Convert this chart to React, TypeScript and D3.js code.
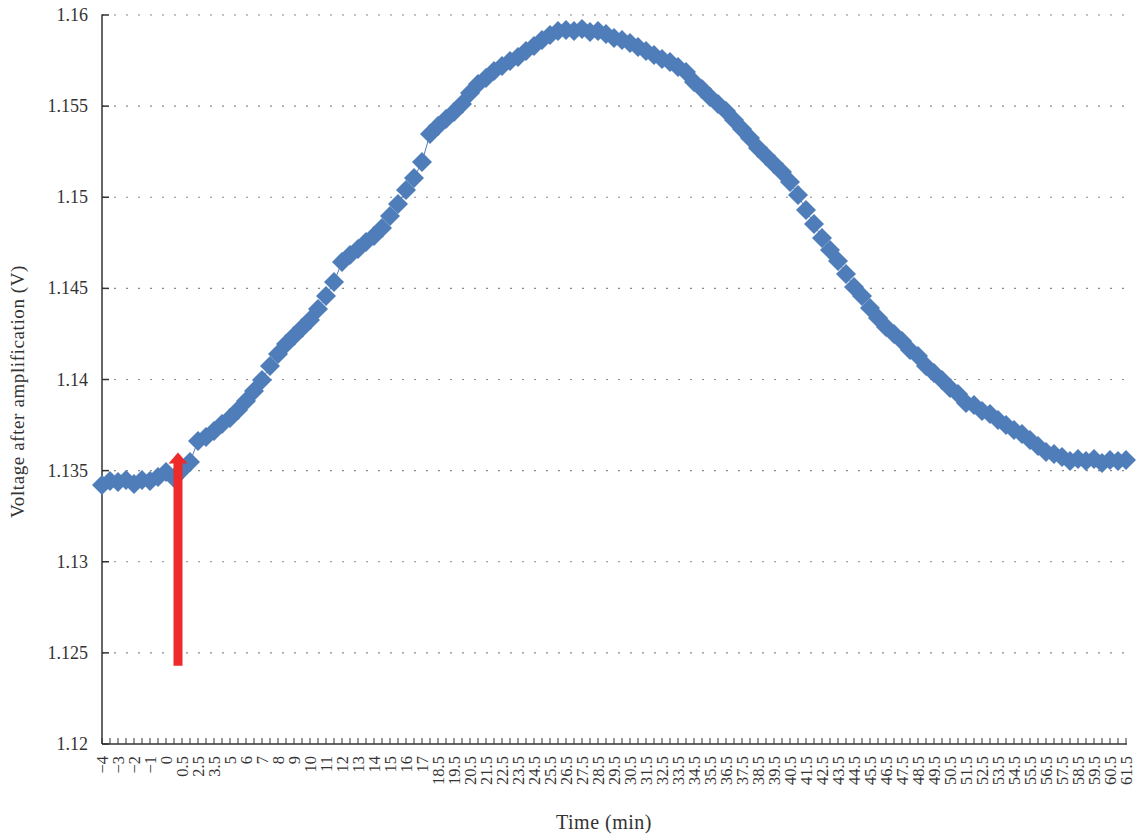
import React from "react";
import * as d3 from "d3";

const xLabels: string[] = [
  "−4", "−3", "−2", "−1", "0", "0.5", "2.5", "3.5",
  "5", "6", "7", "8", "9", "10", "11", "12", "13", "14", "15", "16", "17",
  "18.5", "19.5", "20.5", "21.5", "22.5", "23.5", "24.5", "25.5", "26.5", "27.5",
  "28.5", "29.5", "30.5", "31.5", "32.5", "33.5", "34.5", "35.5", "36.5", "37.5",
  "38.5", "39.5", "40.5", "41.5", "42.5", "43.5", "44.5", "45.5", "46.5", "47.5",
  "48.5", "49.5", "50.5", "51.5", "52.5", "53.5", "54.5", "55.5", "56.5", "57.5",
  "58.5", "59.5", "60.5", "61.5",
];

const voltage: number[] = [
  1.13421, 1.13443, 1.13438, 1.13449, 1.13427, 1.13449, 1.13443, 1.13465, 1.13492, 1.1346,
  1.13503, 1.13547, 1.13663, 1.13685, 1.13717, 1.13756, 1.13789, 1.13833, 1.13882, 1.13937,
  1.13997, 1.14074, 1.1414, 1.14195, 1.14239, 1.14283, 1.14326, 1.14387, 1.14458, 1.14535,
  1.14645, 1.14683, 1.14716, 1.14754, 1.14787, 1.14831, 1.14897, 1.14963, 1.1504, 1.15106,
  1.15193, 1.15347, 1.15391, 1.15429, 1.15468, 1.15512, 1.15572, 1.15621, 1.15654, 1.15693,
  1.1572, 1.15748, 1.1577, 1.15802, 1.1583, 1.15863, 1.1589, 1.15912, 1.15918, 1.15912,
  1.15923, 1.15907, 1.15912, 1.15896, 1.15874, 1.15863, 1.15846, 1.15824, 1.15802, 1.15781,
  1.15759, 1.15742, 1.15715, 1.15687, 1.15632, 1.15594, 1.1555, 1.15512, 1.15473, 1.15424,
  1.15375, 1.15325, 1.1527, 1.15226, 1.15182, 1.15139, 1.15084, 1.15012, 1.1493, 1.14853,
  1.14776, 1.14711, 1.1465, 1.14579, 1.14508, 1.14458, 1.14392, 1.14337, 1.14288, 1.1425,
  1.14211, 1.14162, 1.14129, 1.14074, 1.14036, 1.13997, 1.13953, 1.1392, 1.13871, 1.1386,
  1.13827, 1.13811, 1.13778, 1.1375, 1.13723, 1.13701, 1.13668, 1.13635, 1.13602, 1.13591,
  1.13575, 1.13553, 1.13564, 1.13553, 1.13564, 1.13542, 1.13558, 1.13553, 1.13558,
];

const yTicks: number[] = [1.12, 1.125, 1.13, 1.135, 1.14, 1.145, 1.15, 1.155, 1.16];
const yTickLabels: string[] = ["1.12", "1.125", "1.13", "1.135", "1.14", "1.145", "1.15", "1.155", "1.16"];

// annotation arrow (category position, from value, to value)
const arrowAt: number[] = [9.5];
const arrowFrom: number[] = [1.1243];
const arrowTo: number[] = [1.136];

const W = 1138;
const H = 839;
const left = 102;
const right = 1126;
const top = 15;
const bottom = 744;
const FONT = "'Liberation Serif', 'Times New Roman', serif";
const BLUE = "#4f7db9";

export default function App() {
  const n = voltage.length;
  const x = d3.scaleLinear().domain([0, n - 1]).range([left, right]);
  const y = d3.scaleLinear().domain([1.12, 1.16]).range([bottom, top]);
  const line = d3
    .line<number>()
    .x((_, i) => x(i))
    .y((d) => y(d));
  const s = 10;
  const diamond = `M0,${-s}L${s},0L0,${s}L${-s},0Z`;
  const idx = d3.range(n);

  return (
    <svg
      width={W}
      height={H}
      style={{ position: "absolute", left: 0, top: 0, background: "#fff" }}
      fontFamily={FONT}
    >
      {/* grid */}
      {yTicks.slice(1).map((t) => (
        <line
          key={"g" + t}
          x1={left}
          x2={right + 2}
          y1={y(t)}
          y2={y(t)}
          stroke="#8a8a8a"
          strokeWidth={1.2}
          strokeDasharray="2,10"
        />
      ))}
      {/* y axis */}
      <line x1={left} x2={left} y1={top - 0.5} y2={bottom} stroke="#333" strokeWidth={1.5} />
      {yTicks.map((t, i) => (
        <g key={"yt" + t}>
          <line x1={left} x2={left + 7} y1={y(t)} y2={y(t)} stroke="#333" strokeWidth={1.5} />
          <text
            x={88}
            y={y(t)}
            textAnchor="end"
            dominantBaseline="central"
            fontSize={18}
            fill="#333"
          >
            {yTickLabels[i]}
          </text>
        </g>
      ))}
      {/* x axis */}
      <line x1={left} x2={right + 1} y1={bottom} y2={bottom} stroke="#333" strokeWidth={1.5} />
      {idx.map((i) => (
        <line
          key={"xt" + i}
          x1={x(i)}
          x2={x(i)}
          y1={bottom}
          y2={bottom - 6}
          stroke="#333"
          strokeWidth={1}
        />
      ))}
      {xLabels.map((lab, k) => {
        const xi = x(k * 2);
        return (
          <text
            key={"xl" + k}
            transform={`translate(${xi + 5.5},${bottom + 12}) rotate(-90)`}
            textAnchor="end"
            fontSize={16.5}
            fill="#333"
          >
            {lab}
          </text>
        );
      })}
      {/* titles */}
      <text
        transform={`translate(24,${(top + bottom) / 2 + 12}) rotate(-90)`}
        textAnchor="middle"
        fontSize={19}
        letterSpacing={0.6}
        fill="#333"
      >
        Voltage after amplification (V)
      </text>
      <text x={604} y={829} textAnchor="middle" fontSize={20} letterSpacing={0.5} fill="#333">
        Time (min)
      </text>
      {/* series */}
      <path d={line(voltage) || ""} fill="none" stroke={BLUE} strokeWidth={1} />
      {voltage.map((v, i) => (
        <path
          key={"m" + i}
          d={diamond}
          transform={`translate(${x(i)},${y(v)})`}
          fill={BLUE}
        />
      ))}
      {/* arrow */}
      {arrowAt.map((a, i) => {
        const ax = x(a);
        const y0 = y(arrowFrom[i]);
        const y1 = y(arrowTo[i]);
        const sw = 4.5;
        const hw = 9.5;
        const hh = 11;
        const d = `M${ax - sw},${y0}L${ax - sw},${y1 + hh}L${ax - hw},${y1 + hh}L${ax},${y1}L${ax + hw},${y1 + hh}L${ax + sw},${y1 + hh}L${ax + sw},${y0}Z`;
        return <path key={"a" + i} d={d} fill="#ee2a2a" />;
      })}
    </svg>
  );
}
